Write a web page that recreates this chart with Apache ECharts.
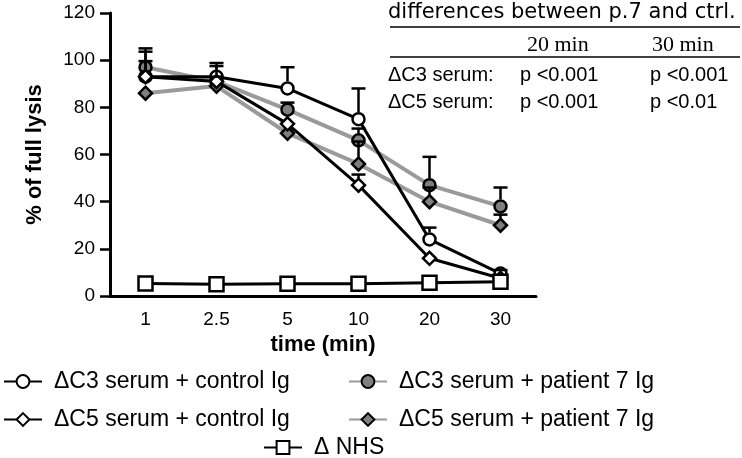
<!DOCTYPE html>
<html>
<head>
<meta charset="utf-8">
<script src="https://cdn.jsdelivr.net/npm/echarts@6/dist/echarts.min.js"></script>
<style>
  html, body { margin: 0; padding: 0; background: #fff; }
  #chart { width: 742px; height: 458px; }
</style>
</head>
<body>
<div id="chart"></div>
<script>
// time points (min)
const times = ['1', '2.5', '5', '10', '20', '30']
const yTicks = [0, 20, 40, 60, 80, 100, 120]

// % of full lysis, means
const c3Control = [93, 93, 88, 75, 24, 9.5]
const c5Control = [93, 91, 73, 47, 16, 7.5]
const c3Patient = [97, 91, 79, 66, 47, 38]
const c5Patient = [86, 89, 69, 56, 40, 30]
const nhs = [5.3, 5, 5.2, 5.2, 5.6, 6]

// top of the (upper) error bars, null = not visible
const c3ControlErr = [105, 98.8, 97, 88, 29, 11]
const c5ControlErr = [99.6, 93, null, 51.5, null, null]
const c3PatientErr = [103.6, 97.5, 82, 71, 59, 46]
const c5PatientErr = [null, null, null, 65.5, 46, 34.5]

const sans = '"Liberation Sans", Arial, sans-serif'

const chart = echarts.init(document.getElementById('chart'))

function errSeries(name, means, tops, gap) {
  const data = []
  means.forEach((m, i) => {
    if (tops[i] != null) data.push([i, m, tops[i]])
  })
  return {
    name: name + ' err',
    type: 'custom',
    z: 5,
    silent: true,
    renderItem(params, api) {
      const p0 = api.coord([api.value(0), api.value(1)])
      const p1 = api.coord([api.value(0), api.value(2)])
      const y0 = Math.max(p0[1] - gap, p1[1])
      return {
        type: 'group',
        children: [
          { type: 'line', shape: { x1: p0[0], y1: y0, x2: p1[0], y2: p1[1] },
            style: { stroke: '#000', lineWidth: 2.5 } },
          { type: 'line', shape: { x1: p1[0] - 7, y1: p1[1], x2: p1[0] + 7, y2: p1[1] },
            style: { stroke: '#000', lineWidth: 2.5 } },
        ],
      }
    },
    data: data,
  }
}

function lineSeries(name, data, symbol, size, fill, lineColor, lineWidth) {
  return {
    name: name,
    type: 'line',
    z: 3,
    data: data,
    symbol: symbol,
    symbolSize: size,
    showAllSymbol: true,
    lineStyle: { color: lineColor, width: lineWidth },
    itemStyle: { color: fill, borderColor: '#000', borderWidth: 2.5 },
    emphasis: { disabled: true },
  }
}

const names = [
  '\u0394C3 serum + control Ig',
  '\u0394C5 serum + control Ig',
  '\u0394C3 serum + patient 7 Ig',
  '\u0394C5 serum + patient 7 Ig',
  '\u0394 NHS',
]

const legendText = { fontFamily: sans, fontSize: 23, color: '#000', lineHeight: 23, padding: [0, 0, 0, 7] }

const option = {
  animation: false,
  grid: { left: 110, right: 206, top: 13, bottom: 162, containLabel: false },
  legend: [
    { data: [names[0], names[1]], orient: 'vertical', left: 3, top: 370, itemGap: 15, padding: 0,
      itemWidth: 38, itemHeight: 16, textStyle: legendText },
    { data: [names[2], names[3]], orient: 'vertical', left: 348, top: 370, itemGap: 15, padding: 0,
      itemWidth: 38, itemHeight: 16, textStyle: legendText },
    { data: [names[4]], left: 263, top: 436, padding: 0,
      itemWidth: 38, itemHeight: 16, textStyle: legendText },
  ],
  xAxis: {
    type: 'category',
    data: times,
    boundaryGap: true,
    name: 'time (min)',
    nameLocation: 'middle',
    nameGap: 38,
    nameTextStyle: { fontFamily: sans, fontSize: 22, fontWeight: 'bold', color: '#000' },
    axisLine: { lineStyle: { color: '#000', width: 3 } },
    axisTick: { alignWithLabel: true, length: 10, lineStyle: { color: '#000', width: 3 } },
    axisLabel: { margin: 14, fontFamily: sans, fontSize: 19, color: '#000' },
    splitLine: { show: false },
  },
  yAxis: {
    type: 'value',
    min: yTicks[0],
    max: yTicks[yTicks.length - 1],
    interval: 20,
    name: '% of full lysis',
    nameLocation: 'middle',
    nameGap: 64,
    nameRotate: 90,
    nameTextStyle: { fontFamily: sans, fontSize: 22, fontWeight: 'bold', color: '#000' },
    axisLine: { show: true, lineStyle: { color: '#000', width: 3 } },
    axisTick: { show: true, length: 10, lineStyle: { color: '#000', width: 2.5 } },
    axisLabel: { margin: 15, fontFamily: sans, fontSize: 19, color: '#000' },
    splitLine: { show: false },
  },
  series: [
    lineSeries(names[2], c3Patient, 'circle', 12, '#7f7f7f', '#9a9a9a', 4),
    lineSeries(names[3], c5Patient, 'diamond', 13, '#7f7f7f', '#9a9a9a', 4),
    lineSeries(names[0], c3Control, 'circle', 12, '#fff', '#000', 3),
    lineSeries(names[1], c5Control, 'diamond', 13, '#fff', '#000', 3),
    lineSeries(names[4], nhs, 'rect', 14, '#fff', '#000', 3),
    errSeries(names[0], c3Control, c3ControlErr, 7),
    errSeries(names[1], c5Control, c5ControlErr, 7),
    errSeries(names[2], c3Patient, c3PatientErr, 7),
    errSeries(names[3], c5Patient, c5PatientErr, 7),
  ],
  graphic: [
    { type: 'text', x: 388, y: 13, style: { text: 'differences between p.7 and ctrl.', font: '21px "DejaVu Sans"', fill: '#000', verticalAlign: 'middle' } },
    { type: 'line', shape: { x1: 390, y1: 27, x2: 740, y2: 27 }, style: { stroke: '#000', lineWidth: 1.5 } },
    { type: 'text', x: 527, y: 45, style: { text: '20 min', font: '22px "Liberation Serif"', fill: '#000', verticalAlign: 'middle' } },
    { type: 'text', x: 652, y: 45, style: { text: '30 min', font: '22px "Liberation Serif"', fill: '#000', verticalAlign: 'middle' } },
    { type: 'line', shape: { x1: 390, y1: 57, x2: 740, y2: 57 }, style: { stroke: '#000', lineWidth: 1.5 } },
    { type: 'text', x: 388, y: 75, style: { text: '\u0394C3 serum:', font: '20px ' + sans, fill: '#000', verticalAlign: 'middle' } },
    { type: 'text', x: 520, y: 75, style: { text: 'p <0.001', font: '20px ' + sans, fill: '#000', verticalAlign: 'middle' } },
    { type: 'text', x: 650, y: 75, style: { text: 'p <0.001', font: '20px ' + sans, fill: '#000', verticalAlign: 'middle' } },
    { type: 'text', x: 388, y: 102, style: { text: '\u0394C5 serum:', font: '20px ' + sans, fill: '#000', verticalAlign: 'middle' } },
    { type: 'text', x: 520, y: 102, style: { text: 'p <0.001', font: '20px ' + sans, fill: '#000', verticalAlign: 'middle' } },
    { type: 'text', x: 650, y: 102, style: { text: 'p <0.01', font: '20px ' + sans, fill: '#000', verticalAlign: 'middle' } },
  ],
}

chart.setOption(option)
</script>
</body>
</html>
